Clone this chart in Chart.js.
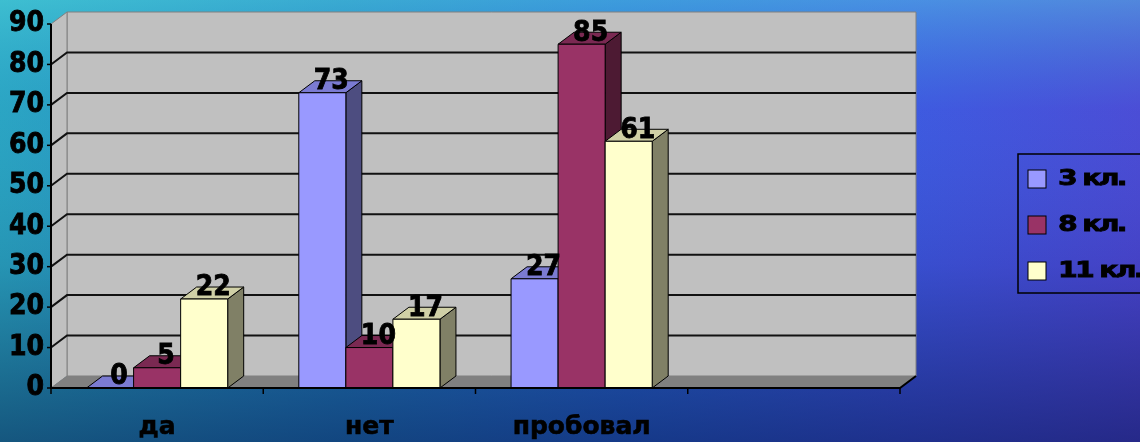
<!DOCTYPE html>
<html>
<head>
<meta charset="utf-8">
<script src="https://cdn.jsdelivr.net/npm/chart.js@4.4.1/dist/chart.umd.min.js"></script>
<style>
  html, body { margin: 0; padding: 0; background: #1d5fa8; }
  canvas { display: block; }
</style>
</head>
<body>
<canvas id="myChart" width="1140" height="442"></canvas>
<script>
// data
const categories = ['да', 'нет', 'пробовал', ''];
const seriesNames = ['3 кл.', '8 кл.', '11 кл.'];
const grade3 = [0, 73, 27, null];
const grade8 = [5, 10, 85, null];
const grade11 = [22, 17, 61, null];
const yTicks = [0, 10, 20, 30, 40, 50, 60, 70, 80, 90];

// styles
const frontColors = ['#9999ff', '#993366', '#ffffcc'];
const topColors = ['#7b7bd2', '#7a2952', '#d0d0a6'];
const sideColors = ['#4d4d80', '#4d1a33', '#808066'];
const NARROW = "'DejaVu Sans Condensed', 'DejaVu Sans', sans-serif";
const WIDE = "'DejaVu Sans', sans-serif";
const DX = 16, DY = 12;

function poly(c, pts, fill, stroke, lw) {
    c.beginPath();
    c.moveTo(pts[0][0], pts[0][1]);
    for (let i = 1; i < pts.length; i++) c.lineTo(pts[i][0], pts[i][1]);
    c.closePath();
    if (fill) { c.fillStyle = fill; c.fill(); }
    if (stroke) { c.strokeStyle = stroke; c.lineWidth = lw || 1; c.stroke(); }
}

const bg = {
    id: 'bg',
    beforeDraw(chart) {
        const c = chart.ctx, w = chart.width, h = chart.height;
        c.save();
        let g = c.createLinearGradient(0, 0, w, 0);
        g.addColorStop(0, '#2aa4c2');
        g.addColorStop(0.3, '#2482c4');
        g.addColorStop(0.55, '#2a6ad6');
        g.addColorStop(0.8, '#3e56e0');
        g.addColorStop(1, '#4c48d6');
        c.fillStyle = g;
        c.fillRect(0, 0, w, h);
        g = c.createLinearGradient(0, 0, 0, h);
        g.addColorStop(0, 'rgba(90,230,230,0.4)');
        g.addColorStop(0.25, 'rgba(60,180,220,0.05)');
        g.addColorStop(0.6, 'rgba(0,10,50,0.1)');
        g.addColorStop(1, 'rgba(0,10,60,0.5)');
        c.fillStyle = g;
        c.fillRect(0, 0, w, h);
        c.restore();
    }
};

const box3d = {
    id: 'box3d',
    beforeDatasetsDraw(chart) {
        const c = chart.ctx;
        const a = chart.chartArea;
        const y = chart.scales.y;
        c.save();
        // back wall, side wall, floor
        poly(c, [[a.left + DX, a.top - DY], [a.right + DX, a.top - DY], [a.right + DX, a.bottom - DY], [a.left + DX, a.bottom - DY]], '#c0c0c0', '#808080', 1);
        poly(c, [[a.left, a.bottom], [a.left, a.top], [a.left + DX, a.top - DY], [a.left + DX, a.bottom - DY]], '#c0c0c0', '#808080', 1);
        poly(c, [[a.left, a.bottom], [a.left + DX, a.bottom - DY], [a.right + DX, a.bottom - DY], [a.right, a.bottom]], '#808080', null);
        // gridlines
        c.strokeStyle = '#111';
        c.lineWidth = 2;
        yTicks.slice(1, -1).forEach(v => {
            const py = y.getPixelForValue(v);
            c.beginPath();
            c.moveTo(a.left, py);
            c.lineTo(a.left + DX, py - DY);
            c.lineTo(a.right + DX, py - DY);
            c.stroke();
        });
        // bars, left to right so each front face covers the previous side
        const n = chart.data.labels.length;
        for (let i = 0; i < n; i++) {
            chart.data.datasets.forEach((ds, d) => {
                const v = ds.data[i];
                if (v === null || v === undefined) return;
                const el = chart.getDatasetMeta(d).data[i];
                const l = el.x - el.width / 2, r = el.x + el.width / 2;
                const t = el.y, b = el.base;
                poly(c, [[r, t], [r + DX, t - DY], [r + DX, b - DY], [r, b]], sideColors[d], '#000', 1);
                poly(c, [[l, t], [l + DX, t - DY], [r + DX, t - DY], [r, t]], topColors[d], '#000', 1);
                poly(c, [[l, t], [r, t], [r, b], [l, b]], frontColors[d], '#000', 1);
            });
        }
        c.restore();
        return false;
    },
    afterDraw(chart) {
        const c = chart.ctx;
        const a = chart.chartArea;
        const y = chart.scales.y;
        c.save();
        // axes
        c.strokeStyle = '#000';
        c.lineWidth = 2;
        c.beginPath();
        c.moveTo(a.left, a.top);
        c.lineTo(a.left, a.bottom);
        c.lineTo(a.right, a.bottom);
        c.lineTo(a.right + DX, a.bottom - DY);
        c.stroke();
        c.lineWidth = 1.5;
        yTicks.forEach(v => {
            const py = y.getPixelForValue(v);
            c.beginPath();
            c.moveTo(a.left - 4, py);
            c.lineTo(a.left, py);
            c.stroke();
        });
        const n = chart.data.labels.length;
        const cw = (a.right - a.left) / n;
        for (let i = 0; i <= n; i++) {
            const px = a.left + cw * i;
            c.beginPath();
            c.moveTo(px, a.bottom);
            c.lineTo(px, a.bottom + 6);
            c.stroke();
        }
        // value labels
        c.fillStyle = '#000';
        c.strokeStyle = '#000';
        c.lineWidth = 0.8;
        c.font = 'bold 28px ' + NARROW;
        c.textAlign = 'center';
        c.textBaseline = 'middle';
        chart.data.datasets.forEach((ds, d) => {
            chart.getDatasetMeta(d).data.forEach((el, i) => {
                const v = ds.data[i];
                if (v === null || v === undefined) return;
                c.fillText(String(v), el.x + 9, el.y - 11);
                c.strokeText(String(v), el.x + 9, el.y - 11);
            });
        });
        // legend
        const lx = 1018, ly = 154;
        c.lineWidth = 1.5;
        c.strokeRect(lx, ly, 140, 139);
        chart.data.datasets.forEach((ds, d) => {
            const cy = 179 + d * 46;
            c.fillStyle = frontColors[d];
            c.fillRect(lx + 10, cy - 9, 18, 18);
            c.lineWidth = 1;
            c.strokeStyle = '#000';
            c.strokeRect(lx + 10, cy - 9, 18, 18);
            c.save();
            c.translate(lx + 40, cy + 1);
            c.scale(1.35, 1);
            c.font = 'bold 21px ' + WIDE;
            c.letterSpacing = '-2px';
            c.textAlign = 'left';
            c.fillStyle = '#000';
            c.lineWidth = 0.8;
            c.fillText(ds.label, 0, 0);
            c.strokeText(ds.label, 0, 0);
            c.restore();
        });
        c.restore();
    }
};

const ctx = document.getElementById('myChart');

new Chart(ctx, {
    type: 'bar',
    data: {
        labels: categories,
        datasets: [
            { label: seriesNames[0], data: grade3, backgroundColor: frontColors[0] },
            { label: seriesNames[1], data: grade8, backgroundColor: frontColors[1] },
            { label: seriesNames[2], data: grade11, backgroundColor: frontColors[2] }
        ]
    },
    options: {
        responsive: false,
        animation: false,
        categoryPercentage: 0.665,
        barPercentage: 1,
        layout: {
            padding: { top: 24, right: 240, left: 0, bottom: 0 }
        },
        plugins: {
            legend: { display: false },
            tooltip: { enabled: false }
        },
        scales: {
            x: {
                grid: { display: false, drawTicks: false },
                border: { display: false },
                ticks: {
                    color: '#000',
                    padding: 24,
                    textStrokeColor: '#000',
                    textStrokeWidth: 0.6,
                    font: { family: WIDE, size: 25, weight: 'bold' }
                },
                afterFit(scale) { scale.height = 54; }
            },
            y: {
                min: 0,
                max: 90,
                grid: { display: false, drawTicks: false },
                border: { display: false },
                ticks: {
                    stepSize: 10,
                    color: '#000',
                    padding: 7,
                    textStrokeColor: '#000',
                    textStrokeWidth: 0.8,
                    font: { family: NARROW, size: 28, weight: 'bold' }
                },
                afterFit(scale) { scale.width = 51; }
            }
        }
    },
    plugins: [bg, box3d]
});
</script>
</body>
</html>
